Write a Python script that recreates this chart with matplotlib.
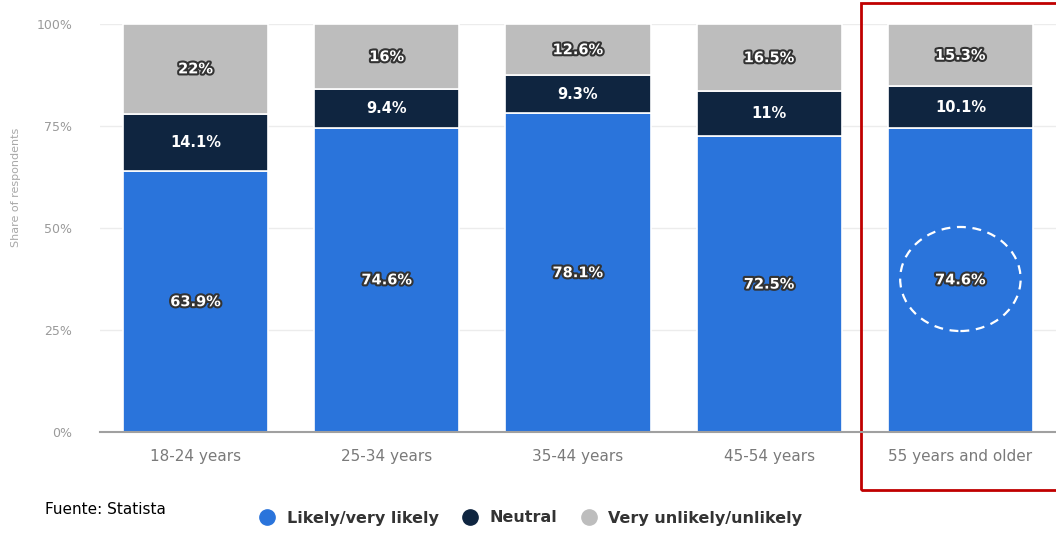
import matplotlib.pyplot as plt
import matplotlib.patheffects as pe
from matplotlib.patches import Rectangle, Ellipse
from matplotlib.lines import Line2D

groups = ['18-24 years', '25-34 years', '35-44 years', '45-54 years', '55 years and older']
likely = [63.9, 74.6, 78.1, 72.5, 74.6]
neutral = [14.1, 9.4, 9.3, 11, 10.1]
unlikely = [22, 16, 12.6, 16.5, 15.3]
likely_lbl = ['63.9%', '74.6%', '78.1%', '72.5%', '74.6%']
neutral_lbl = ['14.1%', '9.4%', '9.3%', '11%', '10.1%']
unlikely_lbl = ['22%', '16%', '12.6%', '16.5%', '15.3%']
yticks = [0, 25, 50, 75, 100]

c_blue = '#2a74db'
c_navy = '#0f2540'
c_grey = '#bdbdbd'

fig = plt.figure(figsize=(10.56, 5.33), dpi=100)
ax = fig.add_axes([100 / 1056, 101 / 533, 956 / 1056, 408 / 533])

x = range(len(groups))
w = 0.76
ax.bar(x, likely, w, color=c_blue, edgecolor='white', linewidth=1.2)
ax.bar(x, neutral, w, bottom=likely, color=c_navy, edgecolor='white', linewidth=1.2)
bottom2 = [a + b for a, b in zip(likely, neutral)]
ax.bar(x, unlikely, w, bottom=bottom2, color=c_grey, edgecolor='white', linewidth=1.2)

stroke = [pe.withStroke(linewidth=3, foreground='#333333')]
lbl_font = dict(ha='center', va='center', color='white', fontsize=10.5, fontweight='bold',
                family=['Liberation Sans Narrow', 'DejaVu Sans'])
for i in x:
    ax.text(i, likely[i] / 2, likely_lbl[i], path_effects=stroke, **lbl_font)
    ax.text(i, likely[i] + neutral[i] / 2, neutral_lbl[i], **lbl_font)
    ax.text(i, bottom2[i] + unlikely[i] / 2, unlikely_lbl[i], path_effects=stroke, **lbl_font)

ax.set_xlim(-0.5, 4.5)
ax.set_ylim(0, 100)
ax.set_yticks(yticks)
ax.set_yticklabels([f'{t}%' for t in yticks], color='#9a9a9a', fontsize=9)
ax.set_xticks(list(x))
ax.set_xticklabels(groups, color='#7a7a7a', fontsize=11)
ax.tick_params(axis='y', length=0, pad=20)
ax.tick_params(axis='x', length=0, pad=12)
ax.yaxis.grid(True, color='#ececec', linewidth=1)
ax.set_axisbelow(True)
for s in ['top', 'right', 'left']:
    ax.spines[s].set_visible(False)
ax.spines['bottom'].set_color('#a0a0a0')
ax.spines['bottom'].set_linewidth(1.5)
ax.set_ylabel('Share of respondents', color='#a8a8a8', fontsize=8)
ax.yaxis.set_label_coords(-0.083, 0.6)

# highlight of the last group
ax.add_patch(Rectangle((861 / 1056, 43 / 533), 200 / 1056, 487 / 533, transform=fig.transFigure,
                       fill=False, edgecolor='#c00000', linewidth=2, clip_on=False))
ax.add_patch(Ellipse((4, likely[4] / 2 + 0.2), 0.63, 25.5, fill=False, edgecolor='white',
                     linewidth=1.6, linestyle=(0, (4, 3))))

fig.text(45 / 1056, 23 / 533, 'Fuente: Statista', fontsize=11,
         family=['Liberation Sans Narrow', 'DejaVu Sans'], va='center')

handles = [Line2D([], [], marker='o', linestyle='', markersize=11, color=c)
           for c in (c_blue, c_navy, c_grey)]
fig.legend(handles, ['Likely/very likely', 'Neutral', 'Very unlikely/unlikely'],
           loc='center', bbox_to_anchor=(527 / 1056, 15 / 533), ncol=3, frameon=False,
           prop={'size': 11.5, 'weight': 'semibold'}, handletextpad=0.2, columnspacing=1.0,
           labelcolor='#333333')

fig.savefig('out.png', dpi=100)
